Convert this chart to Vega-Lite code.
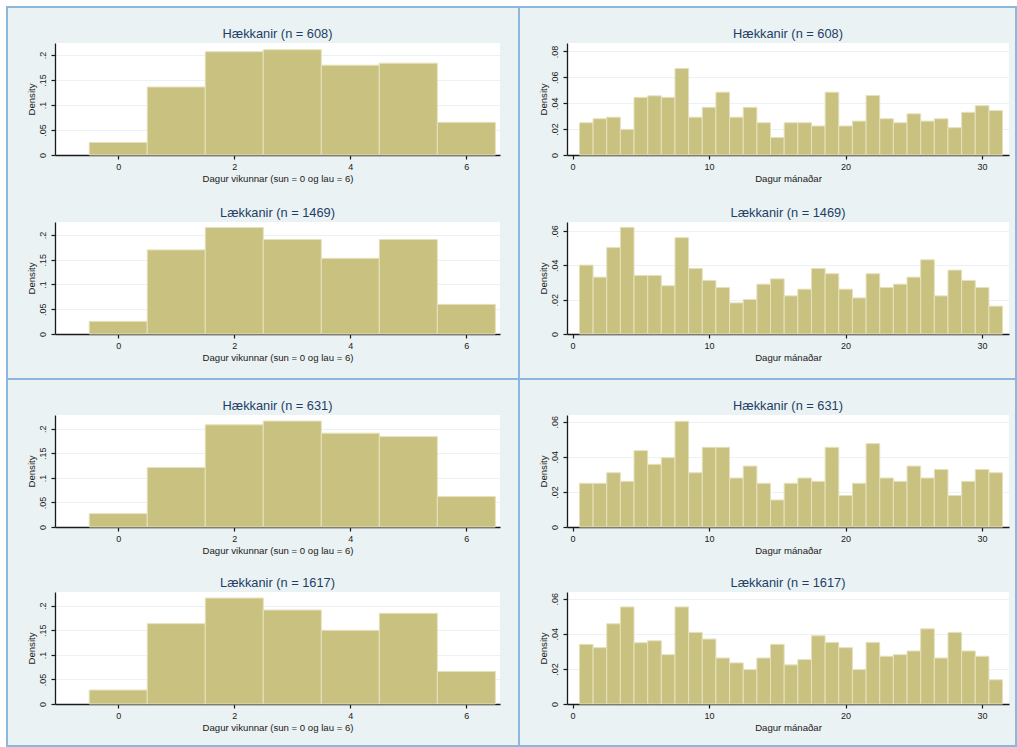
{
  "$schema": "https://vega.github.io/schema/vega-lite/v6.json",
  "padding": {"left": 6, "top": 6, "right": 0, "bottom": 0},
  "autosize": {"type": "pad"},
  "bounds": "flush",
  "spacing": 372,
  "config": {
    "background": "white",
    "font": "Liberation Sans",
    "view": {"fill": "white", "stroke": null},
    "bar": {"color": "#c9c180", "stroke": "#e6e1bd", "strokeWidth": 1},
    "title": {"font": "Liberation Sans", "fontSize": 12.8, "fontWeight": "normal", "color": "#1d3f66", "offset": 2, "anchor": "middle"},
    "axis": {"labelFont": "Liberation Sans", "titleFont": "Liberation Sans", "domainColor": "#1a1a1a", "tickColor": "#1a1a1a", "labelColor": "#1a1a1a", "titleColor": "#1a1a1a", "labelFontSize": 9, "titleFontSize": 9.6, "titleFontWeight": "normal", "tickSize": 4, "domainWidth": 1.3, "tickWidth": 1.2, "gridColor": "#eaf2f3", "gridWidth": 1.2, "zindex": 1},
    "axisX": {"grid": false, "labelPadding": 3, "titlePadding": 2},
    "axisY": {"grid": true, "labelAngle": 270, "labelAlign": "center", "labelBaseline": "bottom", "labelPadding": 4, "titlePadding": 2}
  },
  "datasets": {
    "wk": [
      {"g":"H608","lo":-0.5,"hi":0.5,"density":0.025},
      {"g":"H608","lo":0.5,"hi":1.5,"density":0.136},
      {"g":"H608","lo":1.5,"hi":2.5,"density":0.2066},
      {"g":"H608","lo":2.5,"hi":3.5,"density":0.2105},
      {"g":"H608","lo":3.5,"hi":4.5,"density":0.1796},
      {"g":"H608","lo":4.5,"hi":5.5,"density":0.1836},
      {"g":"H608","lo":5.5,"hi":6.5,"density":0.0653},
      {"g":"L1469","lo":-0.5,"hi":0.5,"density":0.0255},
      {"g":"L1469","lo":0.5,"hi":1.5,"density":0.1697},
      {"g":"L1469","lo":1.5,"hi":2.5,"density":0.2148},
      {"g":"L1469","lo":2.5,"hi":3.5,"density":0.1905},
      {"g":"L1469","lo":3.5,"hi":4.5,"density":0.1527},
      {"g":"L1469","lo":4.5,"hi":5.5,"density":0.1905},
      {"g":"L1469","lo":5.5,"hi":6.5,"density":0.0598},
      {"g":"H631","lo":-0.5,"hi":0.5,"density":0.0272},
      {"g":"H631","lo":0.5,"hi":1.5,"density":0.121},
      {"g":"H631","lo":1.5,"hi":2.5,"density":0.208},
      {"g":"H631","lo":2.5,"hi":3.5,"density":0.2156},
      {"g":"H631","lo":3.5,"hi":4.5,"density":0.191},
      {"g":"H631","lo":4.5,"hi":5.5,"density":0.184},
      {"g":"H631","lo":5.5,"hi":6.5,"density":0.0619},
      {"g":"L1617","lo":-0.5,"hi":0.5,"density":0.0284},
      {"g":"L1617","lo":0.5,"hi":1.5,"density":0.1636},
      {"g":"L1617","lo":1.5,"hi":2.5,"density":0.2157},
      {"g":"L1617","lo":2.5,"hi":3.5,"density":0.1913},
      {"g":"L1617","lo":3.5,"hi":4.5,"density":0.150},
      {"g":"L1617","lo":4.5,"hi":5.5,"density":0.1846},
      {"g":"L1617","lo":5.5,"hi":6.5,"density":0.0663}
    ],
    "mo": [
      {"g":"H608","lo":0.5,"hi":1.5,"density":0.0249},
      {"g":"H608","lo":1.5,"hi":2.5,"density":0.028},
      {"g":"H608","lo":2.5,"hi":3.5,"density":0.0292},
      {"g":"H608","lo":3.5,"hi":4.5,"density":0.0198},
      {"g":"H608","lo":4.5,"hi":5.5,"density":0.0445},
      {"g":"H608","lo":5.5,"hi":6.5,"density":0.0457},
      {"g":"H608","lo":6.5,"hi":7.5,"density":0.0445},
      {"g":"H608","lo":7.5,"hi":8.5,"density":0.0668},
      {"g":"H608","lo":8.5,"hi":9.5,"density":0.0292},
      {"g":"H608","lo":9.5,"hi":10.5,"density":0.0368},
      {"g":"H608","lo":10.5,"hi":11.5,"density":0.0485},
      {"g":"H608","lo":11.5,"hi":12.5,"density":0.0292},
      {"g":"H608","lo":12.5,"hi":13.5,"density":0.0368},
      {"g":"H608","lo":13.5,"hi":14.5,"density":0.0249},
      {"g":"H608","lo":14.5,"hi":15.5,"density":0.0135},
      {"g":"H608","lo":15.5,"hi":16.5,"density":0.0249},
      {"g":"H608","lo":16.5,"hi":17.5,"density":0.0249},
      {"g":"H608","lo":17.5,"hi":18.5,"density":0.0224},
      {"g":"H608","lo":18.5,"hi":19.5,"density":0.0485},
      {"g":"H608","lo":19.5,"hi":20.5,"density":0.0224},
      {"g":"H608","lo":20.5,"hi":21.5,"density":0.0262},
      {"g":"H608","lo":21.5,"hi":22.5,"density":0.046},
      {"g":"H608","lo":22.5,"hi":23.5,"density":0.028},
      {"g":"H608","lo":23.5,"hi":24.5,"density":0.0249},
      {"g":"H608","lo":24.5,"hi":25.5,"density":0.0318},
      {"g":"H608","lo":25.5,"hi":26.5,"density":0.0262},
      {"g":"H608","lo":26.5,"hi":27.5,"density":0.028},
      {"g":"H608","lo":27.5,"hi":28.5,"density":0.0211},
      {"g":"H608","lo":28.5,"hi":29.5,"density":0.033},
      {"g":"H608","lo":29.5,"hi":30.5,"density":0.0381},
      {"g":"H608","lo":30.5,"hi":31.5,"density":0.0343},
      {"g":"L1469","lo":0.5,"hi":1.5,"density":0.0401},
      {"g":"L1469","lo":1.5,"hi":2.5,"density":0.0331},
      {"g":"L1469","lo":2.5,"hi":3.5,"density":0.0503},
      {"g":"L1469","lo":3.5,"hi":4.5,"density":0.0621},
      {"g":"L1469","lo":4.5,"hi":5.5,"density":0.0341},
      {"g":"L1469","lo":5.5,"hi":6.5,"density":0.0341},
      {"g":"L1469","lo":6.5,"hi":7.5,"density":0.0281},
      {"g":"L1469","lo":7.5,"hi":8.5,"density":0.0561},
      {"g":"L1469","lo":8.5,"hi":9.5,"density":0.0382},
      {"g":"L1469","lo":9.5,"hi":10.5,"density":0.0312},
      {"g":"L1469","lo":10.5,"hi":11.5,"density":0.0271},
      {"g":"L1469","lo":11.5,"hi":12.5,"density":0.0181},
      {"g":"L1469","lo":12.5,"hi":13.5,"density":0.0201},
      {"g":"L1469","lo":13.5,"hi":14.5,"density":0.029},
      {"g":"L1469","lo":14.5,"hi":15.5,"density":0.0321},
      {"g":"L1469","lo":15.5,"hi":16.5,"density":0.0222},
      {"g":"L1469","lo":16.5,"hi":17.5,"density":0.0261},
      {"g":"L1469","lo":17.5,"hi":18.5,"density":0.0382},
      {"g":"L1469","lo":18.5,"hi":19.5,"density":0.0351},
      {"g":"L1469","lo":19.5,"hi":20.5,"density":0.0261},
      {"g":"L1469","lo":20.5,"hi":21.5,"density":0.021},
      {"g":"L1469","lo":21.5,"hi":22.5,"density":0.0351},
      {"g":"L1469","lo":22.5,"hi":23.5,"density":0.0271},
      {"g":"L1469","lo":23.5,"hi":24.5,"density":0.029},
      {"g":"L1469","lo":24.5,"hi":25.5,"density":0.0331},
      {"g":"L1469","lo":25.5,"hi":26.5,"density":0.0432},
      {"g":"L1469","lo":26.5,"hi":27.5,"density":0.0222},
      {"g":"L1469","lo":27.5,"hi":28.5,"density":0.0372},
      {"g":"L1469","lo":28.5,"hi":29.5,"density":0.0312},
      {"g":"L1469","lo":29.5,"hi":30.5,"density":0.0271},
      {"g":"L1469","lo":30.5,"hi":31.5,"density":0.0162},
      {"g":"H631","lo":0.5,"hi":1.5,"density":0.0249},
      {"g":"H631","lo":1.5,"hi":2.5,"density":0.0249},
      {"g":"H631","lo":2.5,"hi":3.5,"density":0.0309},
      {"g":"H631","lo":3.5,"hi":4.5,"density":0.026},
      {"g":"H631","lo":4.5,"hi":5.5,"density":0.0435},
      {"g":"H631","lo":5.5,"hi":6.5,"density":0.0357},
      {"g":"H631","lo":6.5,"hi":7.5,"density":0.0395},
      {"g":"H631","lo":7.5,"hi":8.5,"density":0.0602},
      {"g":"H631","lo":8.5,"hi":9.5,"density":0.0309},
      {"g":"H631","lo":9.5,"hi":10.5,"density":0.0454},
      {"g":"H631","lo":10.5,"hi":11.5,"density":0.0454},
      {"g":"H631","lo":11.5,"hi":12.5,"density":0.0279},
      {"g":"H631","lo":12.5,"hi":13.5,"density":0.0347},
      {"g":"H631","lo":13.5,"hi":14.5,"density":0.0249},
      {"g":"H631","lo":14.5,"hi":15.5,"density":0.0154},
      {"g":"H631","lo":15.5,"hi":16.5,"density":0.0249},
      {"g":"H631","lo":16.5,"hi":17.5,"density":0.0279},
      {"g":"H631","lo":17.5,"hi":18.5,"density":0.026},
      {"g":"H631","lo":18.5,"hi":19.5,"density":0.0454},
      {"g":"H631","lo":19.5,"hi":20.5,"density":0.018},
      {"g":"H631","lo":20.5,"hi":21.5,"density":0.0249},
      {"g":"H631","lo":21.5,"hi":22.5,"density":0.0475},
      {"g":"H631","lo":22.5,"hi":23.5,"density":0.0279},
      {"g":"H631","lo":23.5,"hi":24.5,"density":0.026},
      {"g":"H631","lo":24.5,"hi":25.5,"density":0.0347},
      {"g":"H631","lo":25.5,"hi":26.5,"density":0.0279},
      {"g":"H631","lo":26.5,"hi":27.5,"density":0.0328},
      {"g":"H631","lo":27.5,"hi":28.5,"density":0.018},
      {"g":"H631","lo":28.5,"hi":29.5,"density":0.026},
      {"g":"H631","lo":29.5,"hi":30.5,"density":0.0328},
      {"g":"H631","lo":30.5,"hi":31.5,"density":0.0309},
      {"g":"L1617","lo":0.5,"hi":1.5,"density":0.034},
      {"g":"L1617","lo":1.5,"hi":2.5,"density":0.0321},
      {"g":"L1617","lo":2.5,"hi":3.5,"density":0.0457},
      {"g":"L1617","lo":3.5,"hi":4.5,"density":0.0553},
      {"g":"L1617","lo":4.5,"hi":5.5,"density":0.0349},
      {"g":"L1617","lo":5.5,"hi":6.5,"density":0.036},
      {"g":"L1617","lo":6.5,"hi":7.5,"density":0.0281},
      {"g":"L1617","lo":7.5,"hi":8.5,"density":0.0553},
      {"g":"L1617","lo":8.5,"hi":9.5,"density":0.0408},
      {"g":"L1617","lo":9.5,"hi":10.5,"density":0.037},
      {"g":"L1617","lo":10.5,"hi":11.5,"density":0.0262},
      {"g":"L1617","lo":11.5,"hi":12.5,"density":0.0234},
      {"g":"L1617","lo":12.5,"hi":13.5,"density":0.0196},
      {"g":"L1617","lo":13.5,"hi":14.5,"density":0.0262},
      {"g":"L1617","lo":14.5,"hi":15.5,"density":0.034},
      {"g":"L1617","lo":15.5,"hi":16.5,"density":0.0223},
      {"g":"L1617","lo":16.5,"hi":17.5,"density":0.0253},
      {"g":"L1617","lo":17.5,"hi":18.5,"density":0.0389},
      {"g":"L1617","lo":18.5,"hi":19.5,"density":0.0351},
      {"g":"L1617","lo":19.5,"hi":20.5,"density":0.0321},
      {"g":"L1617","lo":20.5,"hi":21.5,"density":0.0196},
      {"g":"L1617","lo":21.5,"hi":22.5,"density":0.0351},
      {"g":"L1617","lo":22.5,"hi":23.5,"density":0.0272},
      {"g":"L1617","lo":23.5,"hi":24.5,"density":0.0281},
      {"g":"L1617","lo":24.5,"hi":25.5,"density":0.0302},
      {"g":"L1617","lo":25.5,"hi":26.5,"density":0.0428},
      {"g":"L1617","lo":26.5,"hi":27.5,"density":0.0262},
      {"g":"L1617","lo":27.5,"hi":28.5,"density":0.0408},
      {"g":"L1617","lo":28.5,"hi":29.5,"density":0.0302},
      {"g":"L1617","lo":29.5,"hi":30.5,"density":0.0272},
      {"g":"L1617","lo":30.5,"hi":31.5,"density":0.0138}
    ],
    "none": []
  },
  "vconcat": [
    {
      "bounds": "flush",
      "spacing": 512,
      "hconcat": [
        {
          "bounds": "flush",
          "spacing": 48,
          "hconcat": [
            {"bounds": "flush", "vconcat": [
              {"width": 512, "height": 372, "data": {"name": "none"}, "mark": "rule", "encoding": {}, "view": {"fill": "#eaf2f3", "stroke": "#8db7de", "strokeWidth": 2}}
            ]},
            {
              "bounds": "flush",
              "spacing": 35,
              "vconcat": [
                {"width": 1, "height": 1, "data": {"name": "none"}, "mark": "rule", "encoding": {}, "view": {"fill": null, "stroke": null}},
                {
                  "bounds": "flush",
                  "spacing": 67,
                  "vconcat": [
                    {
                      "width": 445, "height": 112,
                      "title": "Hækkanir (n = 608)",
                      "data": {"name": "wk"},
                      "transform": [{"filter": "datum.g == 'H608'"}],
                      "mark": "bar",
                      "encoding": {
                        "x": {"field": "lo", "type": "quantitative", "scale": {"domain": [-1.09, 6.58], "nice": false, "zero": false}, "axis": {"values": [0, 2, 4, 6], "format": "d", "title": "Dagur vikunnar (sun = 0 og lau = 6)"}},
                        "x2": {"field": "hi"},
                        "y": {"field": "density", "type": "quantitative", "scale": {"domain": [0, 0.224], "nice": false}, "axis": {"values": [0, 0.05, 0.1, 0.15, 0.2], "title": "Density", "labelExpr": "replace(format(datum.value, '~g'), '0.', '.')"}},
                        "y2": {"datum": 0}
                      }
                    },
                    {
                      "width": 445, "height": 112,
                      "title": "Lækkanir (n = 1469)",
                      "data": {"name": "wk"},
                      "transform": [{"filter": "datum.g == 'L1469'"}],
                      "mark": "bar",
                      "encoding": {
                        "x": {"field": "lo", "type": "quantitative", "scale": {"domain": [-1.09, 6.58], "nice": false, "zero": false}, "axis": {"values": [0, 2, 4, 6], "format": "d", "title": "Dagur vikunnar (sun = 0 og lau = 6)"}},
                        "x2": {"field": "hi"},
                        "y": {"field": "density", "type": "quantitative", "scale": {"domain": [0, 0.226], "nice": false}, "axis": {"values": [0, 0.05, 0.1, 0.15, 0.2], "title": "Density", "labelExpr": "replace(format(datum.value, '~g'), '0.', '.')"}},
                        "y2": {"datum": 0}
                      }
                    }
                  ]
                }
              ]
            }
          ]
        },
        {
          "bounds": "flush",
          "spacing": 48,
          "hconcat": [
            {"bounds": "flush", "vconcat": [
              {"width": 497, "height": 372, "data": {"name": "none"}, "mark": "rule", "encoding": {}, "view": {"fill": "#eaf2f3", "stroke": "#8db7de", "strokeWidth": 2}}
            ]},
            {
              "bounds": "flush",
              "spacing": 35,
              "vconcat": [
                {"width": 1, "height": 1, "data": {"name": "none"}, "mark": "rule", "encoding": {}, "view": {"fill": null, "stroke": null}},
                {
                  "bounds": "flush",
                  "spacing": 67,
                  "vconcat": [
                    {
                      "width": 442, "height": 112,
                      "title": "Hækkanir (n = 608)",
                      "data": {"name": "mo"},
                      "transform": [{"filter": "datum.g == 'H608'"}],
                      "mark": "bar",
                      "encoding": {
                        "x": {"field": "lo", "type": "quantitative", "scale": {"domain": [-0.41, 31.97], "nice": false, "zero": false}, "axis": {"values": [0, 10, 20, 30], "format": "d", "title": "Dagur mánaðar"}},
                        "x2": {"field": "hi"},
                        "y": {"field": "density", "type": "quantitative", "scale": {"domain": [0, 0.0865], "nice": false}, "axis": {"values": [0, 0.02, 0.04, 0.06, 0.08], "title": "Density", "labelExpr": "replace(format(datum.value, '~g'), '0.', '.')"}},
                        "y2": {"datum": 0}
                      }
                    },
                    {
                      "width": 442, "height": 112,
                      "title": "Lækkanir (n = 1469)",
                      "data": {"name": "mo"},
                      "transform": [{"filter": "datum.g == 'L1469'"}],
                      "mark": "bar",
                      "encoding": {
                        "x": {"field": "lo", "type": "quantitative", "scale": {"domain": [-0.41, 31.97], "nice": false, "zero": false}, "axis": {"values": [0, 10, 20, 30], "format": "d", "title": "Dagur mánaðar"}},
                        "x2": {"field": "hi"},
                        "y": {"field": "density", "type": "quantitative", "scale": {"domain": [0, 0.0652], "nice": false}, "axis": {"values": [0, 0.02, 0.04, 0.06], "title": "Density", "labelExpr": "replace(format(datum.value, '~g'), '0.', '.')"}},
                        "y2": {"datum": 0}
                      }
                    }
                  ]
                }
              ]
            }
          ]
        }
      ]
    },
    {
      "bounds": "flush",
      "spacing": 512,
      "hconcat": [
        {
          "bounds": "flush",
          "spacing": 48,
          "hconcat": [
            {"bounds": "flush", "vconcat": [
              {"width": 512, "height": 367, "data": {"name": "none"}, "mark": "rule", "encoding": {}, "view": {"fill": "#eaf2f3", "stroke": "#8db7de", "strokeWidth": 2}}
            ]},
            {
              "bounds": "flush",
              "spacing": 35,
              "vconcat": [
                {"width": 1, "height": 1, "data": {"name": "none"}, "mark": "rule", "encoding": {}, "view": {"fill": null, "stroke": null}},
                {
                  "bounds": "flush",
                  "spacing": 65,
                  "vconcat": [
                    {
                      "width": 445, "height": 112,
                      "title": "Hækkanir (n = 631)",
                      "data": {"name": "wk"},
                      "transform": [{"filter": "datum.g == 'H631'"}],
                      "mark": "bar",
                      "encoding": {
                        "x": {"field": "lo", "type": "quantitative", "scale": {"domain": [-1.09, 6.58], "nice": false, "zero": false}, "axis": {"values": [0, 2, 4, 6], "format": "d", "title": "Dagur vikunnar (sun = 0 og lau = 6)"}},
                        "x2": {"field": "hi"},
                        "y": {"field": "density", "type": "quantitative", "scale": {"domain": [0, 0.228], "nice": false}, "axis": {"values": [0, 0.05, 0.1, 0.15, 0.2], "title": "Density", "labelExpr": "replace(format(datum.value, '~g'), '0.', '.')"}},
                        "y2": {"datum": 0}
                      }
                    },
                    {
                      "width": 445, "height": 112,
                      "title": "Lækkanir (n = 1617)",
                      "data": {"name": "wk"},
                      "transform": [{"filter": "datum.g == 'L1617'"}],
                      "mark": "bar",
                      "encoding": {
                        "x": {"field": "lo", "type": "quantitative", "scale": {"domain": [-1.09, 6.58], "nice": false, "zero": false}, "axis": {"values": [0, 2, 4, 6], "format": "d", "title": "Dagur vikunnar (sun = 0 og lau = 6)"}},
                        "x2": {"field": "hi"},
                        "y": {"field": "density", "type": "quantitative", "scale": {"domain": [0, 0.228], "nice": false}, "axis": {"values": [0, 0.05, 0.1, 0.15, 0.2], "title": "Density", "labelExpr": "replace(format(datum.value, '~g'), '0.', '.')"}},
                        "y2": {"datum": 0}
                      }
                    }
                  ]
                }
              ]
            }
          ]
        },
        {
          "bounds": "flush",
          "spacing": 48,
          "hconcat": [
            {"bounds": "flush", "vconcat": [
              {"width": 497, "height": 367, "data": {"name": "none"}, "mark": "rule", "encoding": {}, "view": {"fill": "#eaf2f3", "stroke": "#8db7de", "strokeWidth": 2}}
            ]},
            {
              "bounds": "flush",
              "spacing": 35,
              "vconcat": [
                {"width": 1, "height": 1, "data": {"name": "none"}, "mark": "rule", "encoding": {}, "view": {"fill": null, "stroke": null}},
                {
                  "bounds": "flush",
                  "spacing": 65,
                  "vconcat": [
                    {
                      "width": 442, "height": 112,
                      "title": "Hækkanir (n = 631)",
                      "data": {"name": "mo"},
                      "transform": [{"filter": "datum.g == 'H631'"}],
                      "mark": "bar",
                      "encoding": {
                        "x": {"field": "lo", "type": "quantitative", "scale": {"domain": [-0.41, 31.97], "nice": false, "zero": false}, "axis": {"values": [0, 10, 20, 30], "format": "d", "title": "Dagur mánaðar"}},
                        "x2": {"field": "hi"},
                        "y": {"field": "density", "type": "quantitative", "scale": {"domain": [0, 0.0638], "nice": false}, "axis": {"values": [0, 0.02, 0.04, 0.06], "title": "Density", "labelExpr": "replace(format(datum.value, '~g'), '0.', '.')"}},
                        "y2": {"datum": 0}
                      }
                    },
                    {
                      "width": 442, "height": 112,
                      "title": "Lækkanir (n = 1617)",
                      "data": {"name": "mo"},
                      "transform": [{"filter": "datum.g == 'L1617'"}],
                      "mark": "bar",
                      "encoding": {
                        "x": {"field": "lo", "type": "quantitative", "scale": {"domain": [-0.41, 31.97], "nice": false, "zero": false}, "axis": {"values": [0, 10, 20, 30], "format": "d", "title": "Dagur mánaðar"}},
                        "x2": {"field": "hi"},
                        "y": {"field": "density", "type": "quantitative", "scale": {"domain": [0, 0.0638], "nice": false}, "axis": {"values": [0, 0.02, 0.04, 0.06], "title": "Density", "labelExpr": "replace(format(datum.value, '~g'), '0.', '.')"}},
                        "y2": {"datum": 0}
                      }
                    }
                  ]
                }
              ]
            }
          ]
        }
      ]
    }
  ]
}
